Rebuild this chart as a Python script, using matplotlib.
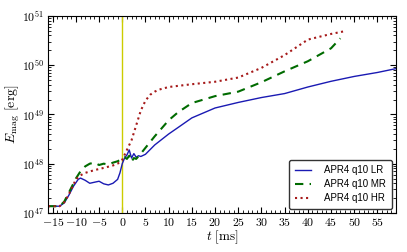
import math
import matplotlib
matplotlib.use("Agg")
import matplotlib.pyplot as plt
from matplotlib.ticker import FuncFormatter, MultipleLocator, LogLocator

plt.rcParams['mathtext.fontset'] = 'cm'
plt.rcParams['font.family'] = ['Liberation Sans', 'DejaVu Sans']

# time [ms] and E_mag [erg]
t_lr = [-16, -13.5, -12.5, -11.5, -10.5, -9.5, -9, -8, -7, -6, -5, -4, -3, -2, -1, -0.5, 0,
        0.5, 1, 1.5, 2, 2.5, 3, 3.5, 4, 5, 7, 10, 12, 15, 20, 25, 30, 35, 40, 45, 50, 55, 59]
e_lr = [1.37e47, 1.37e47, 1.6e47, 2.3e47, 3.5e47, 4.8e47, 5.1e47, 4.6e47, 4.0e47, 4.2e47,
        4.4e47, 3.9e47, 3.7e47, 4.0e47, 4.8e47, 6.5e47, 1.0e48,
        1.3e48, 1.5e48, 1.9e48, 1.3e48, 1.6e48, 1.35e48, 1.45e48, 1.4e48, 1.55e48, 2.4e48,
        4.0e48, 5.4e48, 8.5e48, 1.35e49, 1.75e49, 2.2e49, 2.65e49, 3.6e49, 4.7e49,
        5.9e49, 7.1e49, 8.5e49]

t_mr = [-16, -13.5, -12.5, -11.5, -10.5, -10, -9, -8, -7, -6, -5, -4, -3, -2, -1, 0,
        0.5, 1, 1.5, 2, 2.5, 3, 4, 5, 7, 10, 12, 15, 20, 25, 30, 35, 40, 45, 47]
e_mr = [1.37e47, 1.37e47, 1.7e47, 2.6e47, 4.0e47, 5.0e47, 7.0e47, 8.8e47, 1.0e48, 1.05e48,
        9.4e47, 1.0e48, 9.6e47, 1.05e48, 1.12e48, 1.25e48,
        1.35e48, 1.25e48, 1.45e48, 1.1e48, 1.3e48, 1.25e48, 1.6e48, 2.1e48, 3.6e48,
        7.6e48, 1.1e49, 1.7e49, 2.35e49, 2.9e49, 4.5e49, 7.5e49, 1.2e50, 2.2e50, 3.5e50]

t_hr = [-16, -13.5, -12.5, -11.5, -10.5, -10, -9, -8, -6, -4, -2, -1, 0, 1, 2, 3, 4, 5,
        6, 7, 8, 10, 15, 20, 25, 30, 35, 40, 45, 48]
e_hr = [1.37e47, 1.37e47, 1.65e47, 2.4e47, 3.8e47, 4.8e47, 5.8e47, 6.5e47, 7.4e47, 8.2e47,
        9.2e47, 1.0e48, 1.2e48, 1.9e48, 3.0e48, 6.0e48, 1.2e49, 1.9e49,
        2.5e49, 2.9e49, 3.2e49, 3.6e49, 4.1e49, 4.6e49, 5.6e49, 8.8e49, 1.6e50,
        3.3e50, 4.3e50, 4.9e50]

labels = ['APR4 q10 LR', 'APR4 q10 MR', 'APR4 q10 HR']

fig = plt.figure(figsize=(4.07, 2.52), dpi=100)
ax = fig.add_axes([0.118, 0.155, 0.855, 0.782])

ax.axvline(0, color=(0.8, 0.8, 0), lw=1)
ax.plot(t_lr, e_lr, '-', color=(0.1, 0.1, 0.7), lw=1, label=labels[0])
ax.plot(t_mr, e_mr, '--', color=(0, 0.42, 0), lw=1.5, dashes=(4, 3), label=labels[1])
ax.plot(t_hr, e_hr, ':', color=(0.65, 0.1, 0.1), lw=1.5, label=labels[2])

ax.set_yscale('log')
ax.set_xlim(-16, 59)
ax.set_ylim(1e47, 1e51)

ax.xaxis.set_major_locator(MultipleLocator(5))
ax.xaxis.set_minor_locator(MultipleLocator(1))
ax.yaxis.set_major_locator(LogLocator(base=10))
ax.yaxis.set_minor_locator(LogLocator(base=10, subs=range(2, 10)))
ax.xaxis.set_major_formatter(FuncFormatter(lambda v, p: r'$%d$' % v))
ax.yaxis.set_major_formatter(FuncFormatter(lambda v, p: r'$10^{%d}$' % round(math.log10(v))))

ax.tick_params(which='both', direction='in', top=True, right=True, labelsize=8.5)
ax.tick_params(which='major', length=4, pad=3)
ax.tick_params(which='minor', length=2)

ax.set_xlabel(r'$t\ [{\rm ms}]$', fontsize=9.5)
ax.set_ylabel(r'$E_{\rm mag}\ [{\rm erg}]$', fontsize=10)
ax.xaxis.set_label_coords(0.5, -0.08)
ax.yaxis.set_label_coords(-0.075, 0.5)

leg = ax.legend(loc='lower right', fontsize=7, handlelength=1.6, handletextpad=1.4,
                borderpad=0.6, labelspacing=0.4, fancybox=True, framealpha=1,
                borderaxespad=0.4)
leg.get_frame().set_edgecolor('0.2')

fig.savefig('out.png', dpi=100)
